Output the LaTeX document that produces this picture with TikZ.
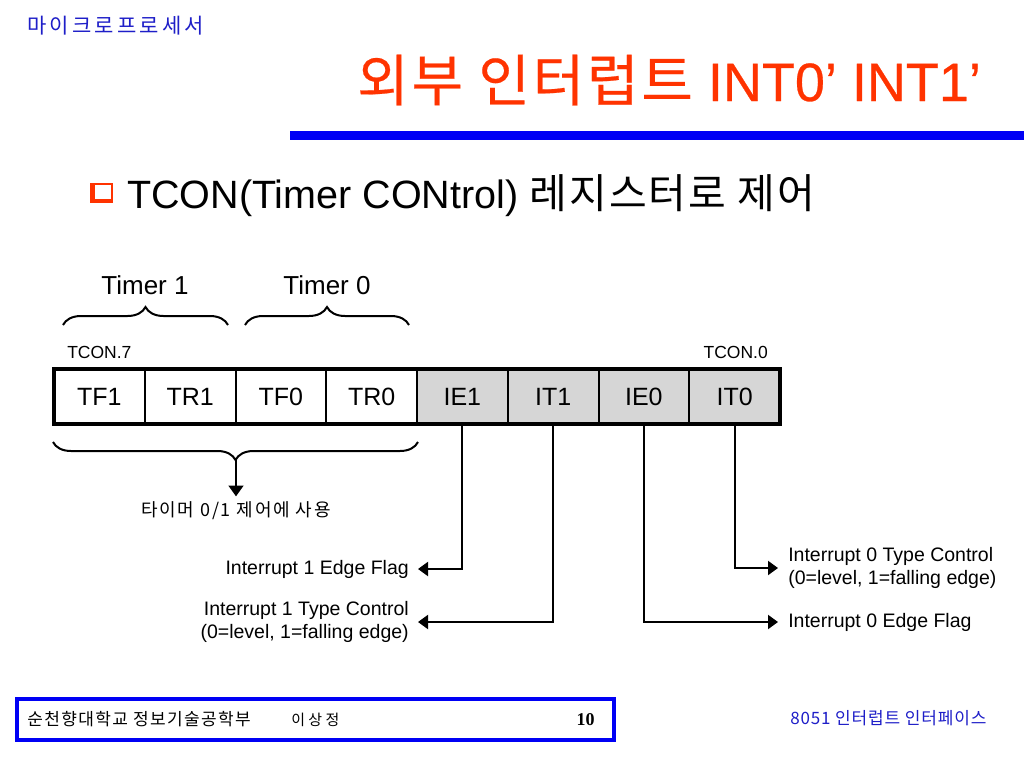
\documentclass[tikz,border=0pt]{standalone}
\usepackage{fontspec}
\setmainfont{Liberation Sans}
\newfontfamily\kr{Noto Sans CJK KR}
\newfontfamily\krs[LetterSpace=10]{Noto Sans CJK KR}
\newfontfamily\krh[LetterSpace=15]{Noto Sans CJK KR}
\newfontfamily\krt[LetterSpace=5]{Noto Sans CJK KR}
\newfontfamily\krtitle[LetterSpace=5,FakeBold=0.35]{Noto Sans CJK KR}
\newfontfamily\lattitle[FakeBold=0.5]{Liberation Sans}
\newfontfamily\krf[LetterSpace=8]{Noto Sans CJK KR}
\newfontfamily\serifb{Liberation Serif}
\usetikzlibrary{decorations.pathreplacing,arrows.meta,calc}
\newcommand\fsz[1]{\fontsize{\fpeval{#1*0.75}pt}{\fpeval{#1*0.9}pt}\selectfont}
\definecolor{titlered}{RGB}{255,51,0}
\definecolor{hdrblue}{RGB}{30,30,200}
\definecolor{lineblue}{RGB}{0,0,245}
\definecolor{cellgray}{RGB}{214,214,214}
\begin{document}
\begin{tikzpicture}[x=0.75pt,y=-0.75pt,
  cell/.style={draw, line width=1.5pt, minimum width=68.06pt, minimum height=41.25pt, inner sep=0pt, outer sep=0pt, font=\fsz{25}},
  gcell/.style={cell, fill=cellgray},
  bracedeco/.style={line width=1.5pt, decorate, decoration={brace, amplitude=13.5pt, aspect=0.5}},
  conn/.style={line width=1.5pt, -{Triangle[width=10.5pt,length=7.5pt]}},
  lab/.style={font=\fsz{19.5}, inner sep=0pt},
  small/.style={font=\fsz{17.5}, inner sep=0pt},
  timerlab/.style={font=\fsz{26}, inner sep=0pt}]
\fill[white] (0,0) rectangle (1024,768);
\useasboundingbox (0,0) rectangle (1024,768);

% header
\node[anchor=base west, text=hdrblue, font=\krh\fsz{21}, inner sep=0pt] (hdr) at (27,33) {마이크로프로세서};
% title
\node[anchor=base west, text=titlered, font=\lattitle\fsz{54}, inner sep=0pt] (title) at (357,101) {{\krtitle\fsz{56}외부 인터럽트} INT0’ INT1’};
\fill[lineblue] (290,131) rectangle (1024,140);

% bullet
\fill[titlered] (90,183) rectangle (113,203);
\fill[white] (94.5,185) rectangle (111,198.5);
\node[anchor=base west, font=\fsz{39.5}, inner sep=0pt] (sub) at (127,208) {TCON(Timer CONtrol) {\krt\fsz{41}레지스터로 제어}};

% register
\node[cell]  (c0) at ({54+90.75*0+45.375},396.5) {TF1};
\node[cell]  (c1) at ({54+90.75*1+45.375},396.5) {TR1};
\node[cell]  (c2) at ({54+90.75*2+45.375},396.5) {TF0};
\node[cell]  (c3) at ({54+90.75*3+45.375},396.5) {TR0};
\node[gcell] (c4) at ({54+90.75*4+45.375},396.5) {IE1};
\node[gcell] (c5) at ({54+90.75*5+45.375},396.5) {IT1};
\node[gcell] (c6) at ({54+90.75*6+45.375},396.5) {IE0};
\node[gcell] (c7) at ({54+90.75*7+45.375},396.5) {IT0};
\draw[line width=2.4pt] (c0.north west) rectangle (c7.south east);

\node[small, anchor=base west] (t7) at (67,358) {TCON.7};
\node[small, anchor=base east] (t0) at (768,358) {TCON.0};

% timer braces
\draw[bracedeco] (63,325) -- (228,325);
\draw[bracedeco] (245,325) -- (409,325);
\node[timerlab] (tm1) at (145,285) {Timer 1};
\node[timerlab] (tm0) at (327,285) {Timer 0};

% lower brace and arrow
\draw[bracedeco] (418,442) -- (53,442);
\coordinate (btip) at (236,460);
\node[font=\krs\fsz{18}, inner sep=0pt] (use) at (236,511) {타이머 0/1 제어에 사용};
\draw[line width=1.5pt, -{Triangle[width=11pt,length=8pt]}, shorten >=4pt] (btip) -- (use.north);

% labels
\node[lab, anchor=east] (l1) at (409,569) {Interrupt 1 Edge Flag};
\node[lab, anchor=east, align=right] (l2) at (409,622) {Interrupt 1 Type Control\\(0=level, 1=falling edge)};
\node[lab, anchor=west, align=left] (l3) at (788,568) {Interrupt 0 Type Control\\(0=level, 1=falling edge)};
\node[lab, anchor=west] (l4) at (788,622) {Interrupt 0 Edge Flag};

\draw[conn] (c4.south) |- ([xshift=6.75pt]l1.east);
\draw[conn] (c5.south) |- ([xshift=6.75pt]l2.east);
\draw[conn] (c7.south) |- ([xshift=-7.5pt]l3.west);
\draw[conn] (c6.south) |- ([xshift=-7.5pt]l4.west);

% footer
\draw[lineblue, line width=2.4pt] (17,699) rectangle (614,740);
\node[anchor=base west, font=\krf\fsz{17}, inner sep=0pt] (f1) at (27,725) {순천향대학교 정보기술공학부};
\node[anchor=base west, font=\kr\fsz{15}, inner sep=0pt] (f2) at (291,725) {이 상 정};
\node[anchor=base east, font=\serifb\bfseries\fsz{18}, inner sep=0pt] (pg) at (595,725) {10};
\node[anchor=base west, font=\krt\fsz{17}, text=hdrblue, inner sep=0pt] (f3) at (790,724) {8051 인터럽트 인터페이스};
\end{tikzpicture}
\end{document}
